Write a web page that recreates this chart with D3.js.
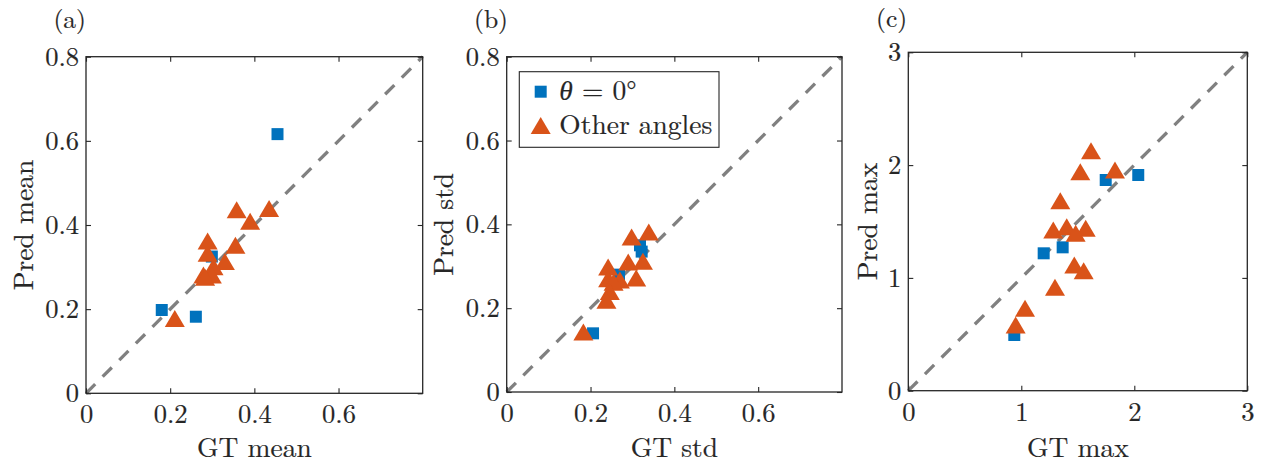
<!DOCTYPE html>
<html><head><meta charset="utf-8">
<script src="https://cdn.jsdelivr.net/npm/d3@7"></script>
<style>
html,body{margin:0;padding:0;background:#fff;}
svg{display:block;}
</style></head>
<body>
<script>
// ---------- DATA ----------
// Panel (a): mean  [GT, Pred]
const meanZero  = [[0.180,0.198],[0.261,0.182],[0.455,0.616],[0.299,0.325]];
const meanOther = [[0.358,0.436],[0.435,0.439],[0.390,0.409],[0.355,0.352],[0.289,0.362],
                   [0.289,0.333],[0.330,0.313],[0.303,0.301],[0.279,0.281],[0.299,0.281],
                   [0.283,0.276],[0.211,0.178]];
// Panel (b): std
const stdZero  = [[0.206,0.140],[0.268,0.280],[0.318,0.350],[0.322,0.335]];
const stdOther = [[0.298,0.370],[0.339,0.382],[0.290,0.310],[0.325,0.312],[0.242,0.298],
                  [0.242,0.270],[0.309,0.272],[0.270,0.267],[0.255,0.262],[0.246,0.240],
                  [0.238,0.219],[0.183,0.143]];
// Panel (c): max
const maxZero  = [[0.938,0.494],[1.198,1.218],[1.366,1.271],[1.747,1.868],[2.035,1.912]];
const maxOther = [[1.617,2.128],[1.522,1.941],[1.829,1.957],[1.345,1.684],[1.283,1.425],
                  [1.402,1.454],[1.570,1.440],[1.481,1.395],[1.469,1.114],[1.552,1.064],
                  [1.298,0.917],[1.033,0.731],[0.950,0.583]];
const ticksAB = [0, 0.2, 0.4, 0.6];
const ticksABy = [0, 0.2, 0.4, 0.6, 0.8];
const ticksC = [0, 1, 2, 3];
const xLabels = ["GT mean", "GT std", "GT max"];
const yLabels = ["Pred mean", "Pred std", "Pred max"];
const panelTags = ["(a)", "(b)", "(c)"];
const legendLabels = ["θ", "Other angles"];

// ---------- STYLE / LAYOUT ----------
const W = 1265, H = 463;
const BLUE = "#0072BD", ORANGE = "#D95319";
const FONT = '"Latin Modern Roman"';
const svg = d3.select("body").append("svg").attr("width", W).attr("height", H);

const panels = [
  {box:[86,56.7,422.7,393.3], dom:[0,0.8], xt:ticksAB, yt:ticksABy, zero:meanZero, other:meanOther, fmt:d=>d===0?"0":String(d), tag:[69.7,28], ylx:33},
  {box:[506.7,56.7,842,392], dom:[0,0.8], xt:ticksAB, yt:ticksABy, zero:stdZero, other:stdOther, fmt:d=>d===0?"0":String(d), tag:[491,27.5], ylx:453, legend:true},
  {box:[908.3,52.3,1247.3,390.7], dom:[0,3], xt:ticksC, yt:ticksC, zero:maxZero, other:maxOther, fmt:d=>String(d), tag:[891.7,26.5], ylx:877}
];

const SQ = 12, TW = 20, TH = 17;
const triPath = `M0,${-TH/2}L${TW/2},${TH/2}L${-TW/2},${TH/2}Z`;
const sqPath = `M${-SQ/2},${-SQ/2}h${SQ}v${SQ}h${-SQ}Z`;

function txt(sel, size) {
  return sel.style("font-family", FONT).style("font-size", size + "px")
    .attr("fill", "#262626").attr("stroke", "#262626").attr("stroke-width", 0.2);
}

panels.forEach((p, i) => {
  const [x0,y0,x1,y1] = p.box;
  const x = d3.scaleLinear().domain(p.dom).range([x0,x1]);
  const y = d3.scaleLinear().domain(p.dom).range([y1,y0]);
  const g = svg.append("g");

  // diagonal
  g.append("line")
    .attr("x1", x(p.dom[0])).attr("y1", y(p.dom[0]))
    .attr("x2", x(p.dom[1])).attr("y2", y(p.dom[1]))
    .attr("stroke", "#808080").attr("stroke-width", 3.3)
    .attr("stroke-dasharray", "13,10.5");

  // markers
  g.selectAll(".sq").data(p.zero).enter().append("path")
    .attr("d", sqPath).attr("fill", BLUE)
    .attr("transform", d => `translate(${x(d[0])},${y(d[1])})`);
  g.selectAll(".tri").data(p.other).enter().append("path")
    .attr("d", triPath).attr("fill", ORANGE)
    .attr("transform", d => `translate(${x(d[0])},${y(d[1])})`);

  // axes (inner ticks, box)
  const tl = 5;
  const axB = d3.axisBottom(x).tickValues(p.xt).tickSizeInner(-tl).tickSizeOuter(0).tickPadding(12).tickFormat(p.fmt);
  const axT = d3.axisTop(x).tickValues(p.xt).tickSizeInner(-tl).tickSizeOuter(0).tickFormat("");
  const axL = d3.axisLeft(y).tickValues(p.yt).tickSizeInner(-tl).tickSizeOuter(0).tickPadding(7).tickFormat(p.fmt);
  const axR = d3.axisRight(y).tickValues(p.yt).tickSizeInner(-tl).tickSizeOuter(0).tickFormat("");
  const gB = g.append("g").attr("transform", `translate(0,${y1})`).call(axB);
  const gT = g.append("g").attr("transform", `translate(0,${y0})`).call(axT);
  const gL = g.append("g").attr("transform", `translate(${x0},0)`).call(axL);
  const gR = g.append("g").attr("transform", `translate(${x1},0)`).call(axR);
  [gB,gT,gL,gR].forEach(a => {
    a.attr("font-family", null).attr("font-size", null);
    a.select(".domain").remove();
    a.selectAll("line").attr("stroke", "#262626").attr("stroke-width", 1.1);
    txt(a.selectAll("text"), 26.5);
  });
  gB.selectAll("text").attr("dy", "0.68em");
  g.append("rect").attr("x", x0).attr("y", y0).attr("width", x1-x0).attr("height", y1-y0)
    .attr("fill", "none").attr("stroke", "#262626").attr("stroke-width", 1.3);

  // labels
  txt(g.append("text"), 27.5).attr("x", (x0+x1)/2).attr("y", 456.5).attr("text-anchor", "middle").text(xLabels[i]);
  txt(g.append("text"), 27.5).attr("transform", `translate(${p.ylx},${(y0+y1)/2}) rotate(-90)`)
    .attr("text-anchor", "middle").text(yLabels[i]);
  txt(g.append("text"), 25.5).attr("x", p.tag[0]).attr("y", p.tag[1]).attr("text-anchor", "middle").text(panelTags[i]);

  if (p.legend) {
    const lg = g.append("g");
    lg.append("rect").attr("x", 519.3).attr("y", 71.7).attr("width", 199.7).attr("height", 75.6)
      .attr("fill", "#fff").attr("stroke", "#262626").attr("stroke-width", 1.1);
    lg.append("path").attr("d", sqPath).attr("fill", BLUE).attr("transform", "translate(540.7,91.7)");
    lg.append("path").attr("d", triPath).attr("fill", ORANGE).attr("transform", "translate(540.7,125.5)");
    const t1 = txt(lg.append("text"), 27.5).attr("x", 559.3).attr("y", 100);
    t1.append("tspan").style("font-style", "italic").text(legendLabels[0]);
    t1.append("tspan").text(" = 0°");
    txt(lg.append("text"), 27.5).attr("x", 559.3).attr("y", 134).text(legendLabels[1]);
  }
});
</script>
</body></html>
